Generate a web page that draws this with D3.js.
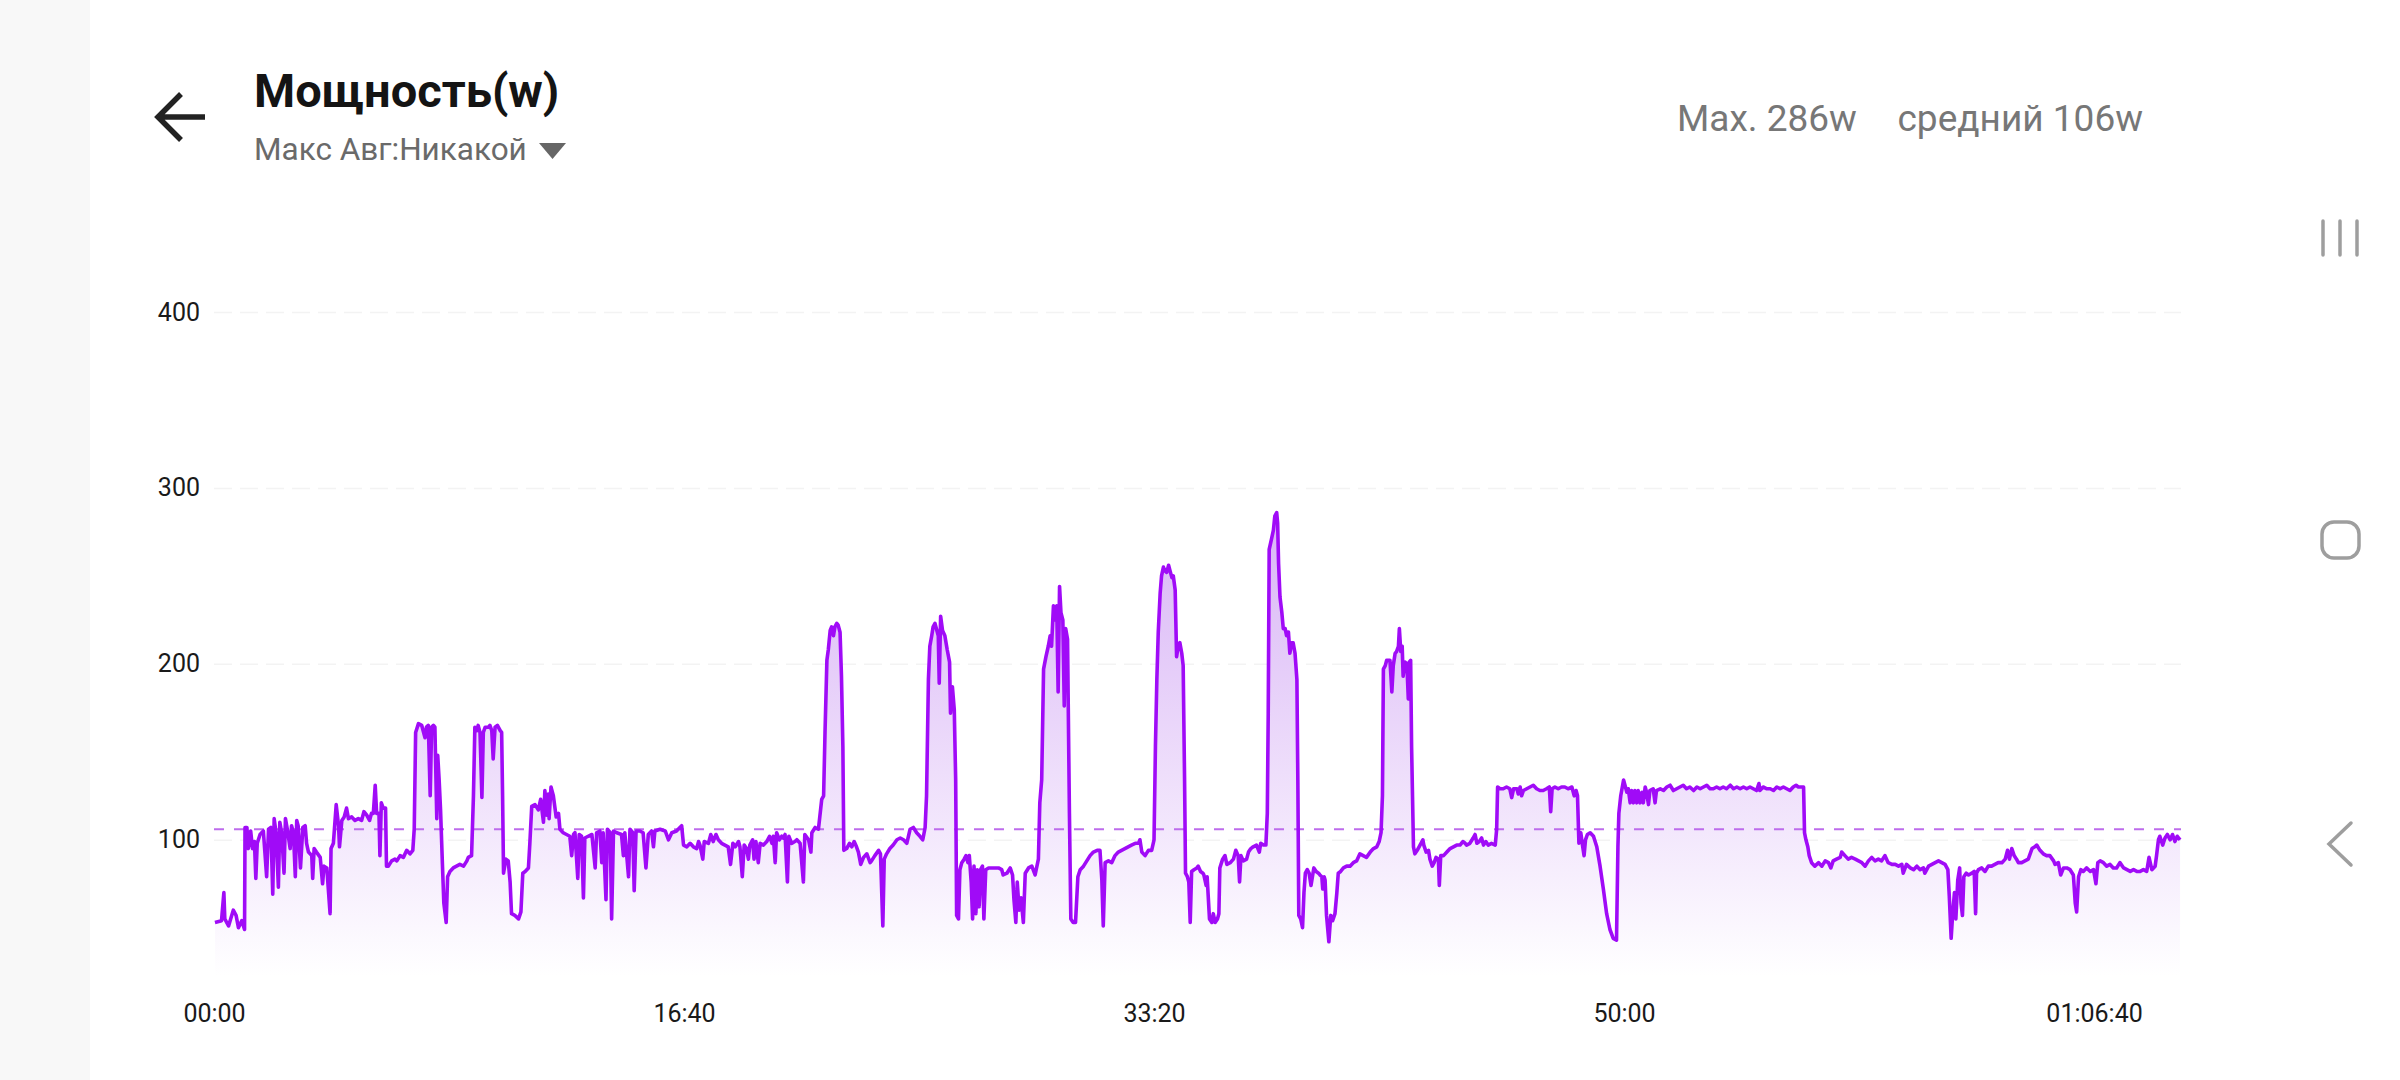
<!DOCTYPE html>
<html><head><meta charset="utf-8">
<script src="https://cdn.jsdelivr.net/npm/d3@7"></script>
<style>
html,body{margin:0;padding:0;background:#fff;overflow:hidden;}
svg{display:block;font-family:Roboto,"Noto Sans",sans-serif;}
</style></head><body>
<svg id="c" width="2400" height="1080"></svg>
<script>
const titleText = "Мощность(w)";
const subtitleText = "Макс Авг:Никакой";
const maxLabel = "Max. 286w";
const avgLabel = "средний 106w";
const avgPower = 106;
const yTicks = [100, 200, 300, 400];
const xTicks = [0, 1000, 2000, 3000, 4000];
const durationSec = 4185;
// [seconds, watts]
const powerSeries = [
[2,53],[16,54],[21,70],[23,55],[31,51],[41,60],[47,57],[52,50],[59,54],[65,49],
[66,107],[70,107],[73,95],[78,105],[82,95],[86,99],[89,78],[92,98],[98,103],[105,105],
[112,79],[116,106],[121,107],[125,69],[128,112],[132,104],[137,73],[140,110],[144,104],[149,81],
[152,112],[156,106],[162,95],[165,108],[169,104],[173,79],[176,111],[179,108],[184,84],[189,107],
[194,108],[197,98],[201,93],[208,91],[210,78],[213,95],[218,93],[226,90],[231,75],[234,85],
[240,84],[247,58],[249,95],[254,98],[260,120],[265,108],[267,96],[272,111],[277,113],[282,118],
[286,112],[293,113],[300,111],[307,112],[314,111],[319,116],[325,114],[331,111],[335,115],[339,115],
[343,131],[346,115],[351,115],[353,91],[356,121],[360,118],[365,118],[367,85],[371,85],[378,88],
[385,89],[389,88],[396,91],[403,90],[410,94],[417,92],[423,94],[426,106],[429,161],[435,166],
[442,165],[449,158],[452,164],[456,165],[460,125],[463,164],[467,165],[470,164],[474,112],[476,148],
[479,134],[482,117],[486,86],[489,64],[494,53],[497,79],[502,82],[509,84],[516,85],[523,86],
[531,85],[538,88],[541,90],[548,91],[552,125],[555,164],[559,162],[562,165],[566,161],[570,124],
[573,161],[577,164],[584,164],[587,165],[591,162],[594,146],[598,164],[603,165],[609,162],[612,161],
[614,125],[616,81],[621,89],[626,88],[630,76],[633,58],[640,57],[648,55],[653,59],[657,81],
[662,82],[669,84],[672,98],[676,119],[683,120],[690,117],[695,123],[701,110],[704,128],[708,114],
[711,126],[713,112],[717,130],[722,125],[728,113],[733,115],[736,106],[743,104],[750,103],[757,102],
[761,91],[765,103],[768,104],[774,78],[777,103],[782,102],[786,67],[789,101],[796,102],[804,103],
[811,84],[814,104],[821,105],[825,87],[828,104],[834,66],[837,106],[843,104],[846,55],[850,105],
[857,104],[867,103],[871,91],[874,104],[882,79],[885,106],[891,104],[894,71],[898,105],[906,105],
[913,104],[919,84],[924,103],[931,105],[935,96],[938,105],[949,106],[960,105],[967,100],[974,104],
[984,105],[995,108],[999,97],[1006,96],
[1013,98],[1020,96],[1027,95],[1031,99],[1034,97],[1040,89],[1043,99],[1052,98],[1057,103],[1062,99],
[1068,103],[1073,100],[1080,98],[1087,97],[1094,96],[1099,86],[1104,98],[1109,96],[1116,99],[1119,96],
[1124,79],[1128,97],[1133,95],[1137,89],[1140,97],[1146,100],[1149,89],[1153,99],[1158,87],[1162,98],
[1169,97],[1176,99],[1182,102],[1187,98],[1190,102],[1194,87],[1197,104],[1203,100],[1208,102],[1211,101],
[1215,103],[1220,76],[1223,102],[1229,98],[1236,99],[1240,100],[1247,98],[1254,76],[1257,103],[1265,100],
[1270,93],[1272,104],[1279,107],[1286,106],[1293,123],[1297,125],[1300,161],[1304,202],[1307,208],[1311,219],
[1314,221],[1318,216],[1321,221],[1325,223],[1328,222],[1332,218],[1335,193],[1338,153],[1340,94],[1346,95],
[1352,98],[1357,96],[1362,99],[1367,96],[1371,93],[1376,86],[1382,90],[1389,92],[1396,87],[1399,88],
[1406,91],[1414,94],[1418,92],[1423,51],[1426,89],[1431,92],[1438,95],[1445,97],[1453,100],[1460,101],
[1467,100],[1474,98],[1481,106],[1488,107],[1495,104],[1502,102],[1508,100],[1513,107],[1516,125],[1520,191],
[1523,210],[1527,216],[1530,221],[1534,223],[1538,219],[1541,216],[1543,189],[1546,227],[1550,219],[1555,216],
[1560,208],[1565,201],[1567,172],[1571,187],[1575,174],[1578,134],[1580,57],[1584,55],[1587,83],[1591,87],
[1596,89],[1600,91],[1604,87],[1607,91],[1611,76],[1614,55],[1617,85],[1621,58],[1624,83],[1628,62],
[1631,83],[1635,85],[1638,55],[1642,83],[1648,84],[1655,84],[1662,84],[1669,84],[1676,83],[1679,80],
[1687,81],[1694,84],[1699,80],[1702,66],[1706,53],[1709,76],[1713,60],[1717,67],[1722,53],[1726,81],
[1733,84],[1740,85],[1747,80],[1754,89],[1757,121],[1761,134],[1765,197],[1770,204],[1775,210],[1779,216],
[1782,210],[1786,233],[1789,225],[1793,233],[1796,184],[1799,244],[1802,229],[1806,225],[1809,176],[1812,220],
[1816,214],[1820,115],[1823,55],[1828,53],[1833,53],[1838,79],[1843,83],[1850,85],[1857,88],[1864,91],
[1871,93],[1879,94],[1885,94],[1889,77],[1892,51],[1896,87],[1903,88],[1910,87],[1917,91],[1924,93],
[1931,94],[1938,95],[1945,96],[1952,97],[1960,98],[1967,98],[1970,100],[1974,93],[1981,91],[1988,94],
[1995,94],[2000,100],[2003,153],[2006,191],[2009,218],[2013,240],[2016,250],[2020,255],[2023,253],[2027,252],
[2031,256],[2034,253],[2038,249],[2041,250],[2045,242],[2048,204],[2052,211],
[2055,212],[2059,206],[2062,199],[2065,134],[2067,81],[2071,79],[2074,76],[2077,53],[2080,82],[2085,83],
[2091,84],[2094,85],[2099,82],[2104,81],[2106,80],[2111,74],[2113,79],[2118,55],[2123,53],[2126,58],
[2130,53],[2135,55],[2138,58],[2140,84],[2146,89],[2151,91],[2155,86],[2162,87],[2169,89],[2174,94],
[2179,91],[2182,76],[2185,91],[2190,88],[2197,89],[2201,93],[2206,95],[2211,96],[2218,97],[2224,93],
[2227,98],[2233,97],[2238,97],[2241,115],[2243,172],[2245,265],[2250,271],[2254,276],[2257,284],[2261,286],
[2263,280],[2265,257],[2268,238],[2272,229],[2275,220],[2279,220],[2282,216],[2286,218],[2289,206],[2293,212],
[2296,212],[2300,206],[2304,191],[2306,134],[2308,57],[2312,55],[2316,50],[2319,70],[2322,81],[2326,83],
[2330,81],[2334,74],[2337,79],[2340,84],[2345,82],[2350,81],[2353,80],[2357,79],[2359,72],[2362,79],
[2364,77],[2367,57],[2372,42],[2376,57],[2380,54],[2385,58],[2389,70],[2392,81],[2397,82],[2403,84],
[2410,85],[2417,85],[2424,87],[2431,88],[2438,92],[2445,91],[2452,90],[2460,93],[2467,95],[2474,96],
[2479,99],[2483,104],[2486,125],[2488,197],[2492,199],[2495,202],[2499,202],[2502,202],[2506,184],[2509,199],
[2513,206],[2516,207],[2520,210],[2522,220],[2525,207],[2528,210],[2530,193],[2534,201],[2538,200],[2541,180],
[2543,201],[2546,202],[2548,153],[2552,96],[2555,92],[2560,94],[2566,97],[2572,100],[2574,97],[2579,93],
[2584,94],[2587,89],[2592,85],[2596,87],[2600,90],[2605,89],[2607,74],[2610,91],[2616,91],[2623,93],
[2630,95],[2637,96],[2644,97],[2651,97],[2657,99],[2662,98],[2665,97],[2672,98],[2679,101],[2683,103],
[2687,98],[2692,99],[2697,101],[2701,97],[2706,99],[2711,97],[2718,98],[2726,97],[2729,106],[2731,130],
[2736,129],[2743,129],[2750,130],[2757,129],[2761,124],[2765,129],[2772,129],[2775,126],[2779,130],[2782,125],
[2786,128],[2793,129],[2800,130],[2807,131],[2814,129],[2821,128],[2828,128],[2835,129],[2841,130],[2844,116],
[2847,129],[2853,130],[2860,129],[2867,130],[2874,130],[2881,129],[2889,130],[2894,125],[2898,128],[2901,125],
[2904,98],[2908,104],[2911,98],[2915,91],[2918,100],[2922,103],[2928,104],[2935,102],[2942,96],[2949,85],
[2956,72],[2963,58],[2970,49],[2977,44],[2984,43],[2987,96],[2989,115],[2993,125],[2999,134],[3002,131],
[3006,127],[3009,129],[3013,121],[3016,128],[3020,121],[3023,128],[3027,121],[3030,128],[3034,121],[3038,127],
[3041,121],[3045,130],[3048,127],[3052,120],[3055,128],[3062,129],[3066,121],[3069,128],[3077,129],[3084,128],
[3091,130],
[3098,131],[3105,128],[3112,129],[3119,130],[3126,131],[3133,129],[3140,130],[3148,128],[3155,130],[3162,129],
[3169,130],[3176,131],[3183,129],[3190,129],[3197,130],[3204,129],[3211,130],[3218,129],[3226,131],[3233,129],
[3240,130],[3247,129],[3254,130],[3261,129],[3268,130],[3275,129],[3282,128],[3287,132],[3289,128],[3296,130],
[3304,129],[3311,129],[3318,128],[3325,130],[3332,129],[3339,130],[3346,129],[3353,128],[3360,130],[3366,131],
[3371,130],[3382,130],[3384,104],[3387,100],[3391,96],[3394,91],[3399,87],[3406,85],[3414,87],[3421,85],
[3428,88],[3435,87],[3440,84],[3445,88],[3452,89],[3460,90],[3463,93],[3470,91],[3477,89],[3484,90],
[3492,89],[3499,88],[3506,87],[3513,85],[3520,88],[3527,90],[3534,88],[3541,89],[3548,88],[3555,91],
[3562,87],[3570,86],[3577,86],[3584,85],[3591,86],[3594,81],[3601,86],[3609,84],[3616,83],[3623,85],
[3630,83],[3637,84],[3640,81],[3648,85],[3655,86],[3662,87],[3669,88],[3676,87],[3683,86],[3689,83],
[3692,68],[3696,44],[3699,57],[3703,70],[3706,55],[3710,77],[3714,84],[3717,64],[3720,57],[3723,79],
[3728,81],[3733,80],[3740,81],[3745,82],[3748,58],[3750,81],[3754,83],[3761,84],[3768,82],[3775,85],
[3782,85],[3789,86],[3796,87],[3804,87],[3811,89],[3816,94],[3820,89],[3825,95],[3830,91],[3835,89],
[3839,87],[3846,87],[3853,88],[3860,89],[3868,95],[3874,96],[3878,97],[3885,94],[3892,92],[3899,91],
[3906,91],[3914,88],[3917,86],[3924,87],[3929,80],[3935,84],[3942,84],[3949,83],[3956,80],[3960,64],
[3963,59],[3967,79],[3972,83],[3977,82],[3984,84],[3992,82],[3999,83],[4004,75],[4008,87],[4013,88],
[4020,87],[4027,85],[4034,86],[4041,84],[4048,84],[4055,87],[4063,84],[4070,83],[4077,82],[4084,83],
[4091,82],[4098,82],[4105,83],[4112,82],[4117,90],[4123,83],[4130,85],[4133,91],[4137,100],[4140,102],
[4146,97],[4151,101],[4156,103],[4162,100],[4167,103],[4172,99],[4177,102],[4183,100]
];

const svg = d3.select("#c");
const W = 2400, H = 1080;
const plot = {left: 214, right: 2181, top: 312, bottom: 977};

// left strip
svg.append("rect").attr("x",0).attr("y",0).attr("width",90).attr("height",H).attr("fill","#f8f8f8");

const x = d3.scaleLinear().domain([0, durationSec]).range([plot.left, plot.right]);
const y = d3.scaleLinear().domain([22, 400]).range([plot.bottom, plot.top]);

// gradient
const defs = svg.append("defs");
const grad = defs.append("linearGradient").attr("id","fillGrad")
  .attr("gradientUnits","userSpaceOnUse")
  .attr("x1",0).attr("x2",0).attr("y1",plot.top).attr("y2",plot.bottom);
grad.append("stop").attr("offset","0%").attr("stop-color","#c894f2");
grad.append("stop").attr("offset","100%").attr("stop-color","#ffffff");

// gridlines
const grid = svg.append("g").attr("transform",`translate(${plot.left},0)`)
  .call(d3.axisLeft(y).tickValues(yTicks).tickSize(-(plot.right-plot.left)).tickFormat(""));
grid.select(".domain").remove();
grid.selectAll("line").attr("stroke","#f3f3f3").attr("stroke-width",1.5).attr("stroke-dasharray","18 8");

// area + line
const area = d3.area().x(d=>x(d[0])).y0(plot.bottom).y1(d=>y(d[1]));
const line = d3.line().x(d=>x(d[0])).y(d=>y(d[1]));
svg.append("path").datum(powerSeries).attr("d",area).attr("fill","url(#fillGrad)");

// avg line
svg.append("line").attr("x1",plot.left).attr("x2",plot.right)
  .attr("y1",y(avgPower)).attr("y2",y(avgPower))
  .attr("stroke","#bd6cec").attr("stroke-width",2).attr("stroke-dasharray","10 10");

svg.append("path").datum(powerSeries).attr("d",line).attr("fill","none")
  .attr("stroke","#a00bf7").attr("stroke-width",3.6).attr("stroke-linejoin","round");

// y axis labels
const yAx = svg.append("g").attr("transform",`translate(${plot.left},0)`)
  .call(d3.axisLeft(y).tickValues(yTicks).tickSize(0).tickPadding(14));
yAx.select(".domain").remove();
yAx.selectAll("text").attr("font-size",25).attr("fill","#1a1a1a").attr("font-family","Roboto, sans-serif");

// x axis labels
const pad = n => String(n).padStart(2,"0");
const fmtTime = s => {
  const h = Math.floor(s/3600), m = Math.floor((s%3600)/60), sec = s%60;
  return h>0 ? `${pad(h)}:${pad(m)}:${pad(sec)}` : `${pad(m)}:${pad(sec)}`;
};
const xAx = svg.append("g").attr("transform",`translate(0,${plot.bottom})`)
  .call(d3.axisBottom(x).tickValues(xTicks).tickSize(0).tickPadding(27).tickFormat(fmtTime));
xAx.select(".domain").remove();
xAx.selectAll("text").attr("font-size",25).attr("fill","#1a1a1a").attr("font-family","Roboto, sans-serif");

// header
svg.append("path").attr("d","M159,117 L205,117 M181,94 L158,117 L181,140")
  .attr("fill","none").attr("stroke","#222").attr("stroke-width",5.5).attr("stroke-linecap","butt").attr("stroke-linejoin","miter");
svg.append("text").attr("x",254).attr("y",107).attr("font-size",47).attr("font-weight",700)
  .attr("fill","#141414").text(titleText);
svg.append("text").attr("x",254).attr("y",160).attr("font-size",31.5).attr("fill","#6a6a6a").text(subtitleText);
svg.append("path").attr("d","M539,143 L566,143 L552.5,159 Z").attr("fill","#666");

svg.append("text").attr("x",1677).attr("y",131).attr("font-size",37).attr("fill","#777").text(maxLabel);
svg.append("text").attr("x",2143).attr("y",131).attr("font-size",37).attr("fill","#777")
  .attr("text-anchor","end").text(avgLabel);

// nav icons
const nav = svg.append("g").attr("stroke","#9e9e9e").attr("fill","none").attr("stroke-width",3.5).attr("stroke-linecap","round");
[2323,2340,2357].forEach(xx=>nav.append("line").attr("x1",xx).attr("x2",xx).attr("y1",221).attr("y2",255));
nav.append("rect").attr("x",2322).attr("y",522).attr("width",37).attr("height",36).attr("rx",12);
nav.append("path").attr("d","M2351,823 L2329,844 L2351,865");
</script>
</body></html>
